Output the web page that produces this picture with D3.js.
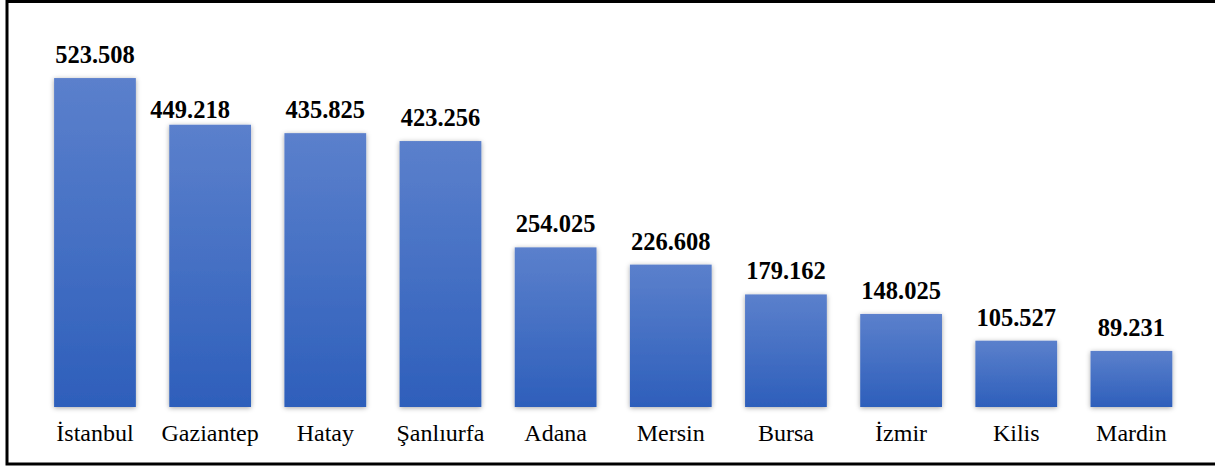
<!DOCTYPE html>
<html>
<head>
<meta charset="utf-8">
<script src="https://cdn.jsdelivr.net/npm/d3@7"></script>
<style>
  body { margin: 0; background: #fff; }
  svg { display: block; }
</style>
</head>
<body>
<svg id="chart" width="1215" height="466"></svg>
<script>
const cities = ['İstanbul', 'Gaziantep', 'Hatay', 'Şanlıurfa', 'Adana', 'Mersin', 'Bursa', 'İzmir', 'Kilis', 'Mardin'];
const counts = [523508, 449218, 435825, 423256, 254025, 226608, 179162, 148025, 105527, 89231];
const countLabels = ['523.508', '449.218', '435.825', '423.256', '254.025', '226.608', '179.162', '148.025', '105.527', '89.231'];

const svg = d3.select('#chart');
const serif = '"Liberation Serif", "Times New Roman", serif';

// frame (right edge runs off the picture)
svg.append('rect')
  .attr('x', 7).attr('y', 1.5)
  .attr('width', 1230).attr('height', 462.5)
  .attr('fill', 'none').attr('stroke', '#000').attr('stroke-width', 3);

const defs = svg.append('defs');
const grad = defs.append('linearGradient')
  .attr('id', 'barGrad').attr('x1', 0).attr('y1', 0).attr('x2', 0).attr('y2', 1);
grad.append('stop').attr('offset', '0%').attr('stop-color', '#5b80cc');
grad.append('stop').attr('offset', '100%').attr('stop-color', '#2e5fbb');

const shadow = defs.append('filter').attr('id', 'shadow')
  .attr('x', '-20%').attr('y', '-20%').attr('width', '140%').attr('height', '140%');
shadow.append('feDropShadow')
  .attr('dx', 0).attr('dy', 1).attr('stdDeviation', 2.5)
  .attr('flood-color', '#000').attr('flood-opacity', 0.35);

const x = d3.scaleBand()
  .domain(cities)
  .range([37.4, 1189])
  .paddingInner(0.29)
  .paddingOuter(0.145);

const y = d3.scaleLinear()
  .domain([0, 600000])
  .range([407, 30]);

const data = cities.map((c, i) => ({ city: c, value: counts[i], label: countLabels[i] }));

svg.append('g')
  .selectAll('rect')
  .data(data)
  .join('rect')
  .attr('x', d => x(d.city))
  .attr('y', d => y(d.value))
  .attr('width', x.bandwidth())
  .attr('height', d => y(0) - y(d.value))
  .attr('fill', 'url(#barGrad)')
  .attr('filter', 'url(#shadow)');

// the Gaziantep label sits left of its bar and lower in the original
const nudge = d => d.city === 'Gaziantep' ? [-20, 8] : [0, 0];

svg.append('g')
  .selectAll('text')
  .data(data)
  .join('text')
  .attr('x', d => x(d.city) + x.bandwidth() / 2 + nudge(d)[0])
  .attr('y', d => y(d.value) - 15 + nudge(d)[1])
  .attr('text-anchor', 'middle')
  .attr('font-family', serif)
  .attr('font-weight', 'bold')
  .attr('font-size', 24.5)
  .attr('fill', '#000')
  .text(d => d.label);

const xAxis = svg.append('g')
  .attr('transform', `translate(0,${y(0)})`)
  .call(d3.axisBottom(x).tickSize(0).tickPadding(17));
xAxis.select('.domain').remove();
xAxis.selectAll('text')
  .attr('font-family', serif)
  .attr('font-size', 24)
  .attr('fill', '#000');
</script>
</body>
</html>
